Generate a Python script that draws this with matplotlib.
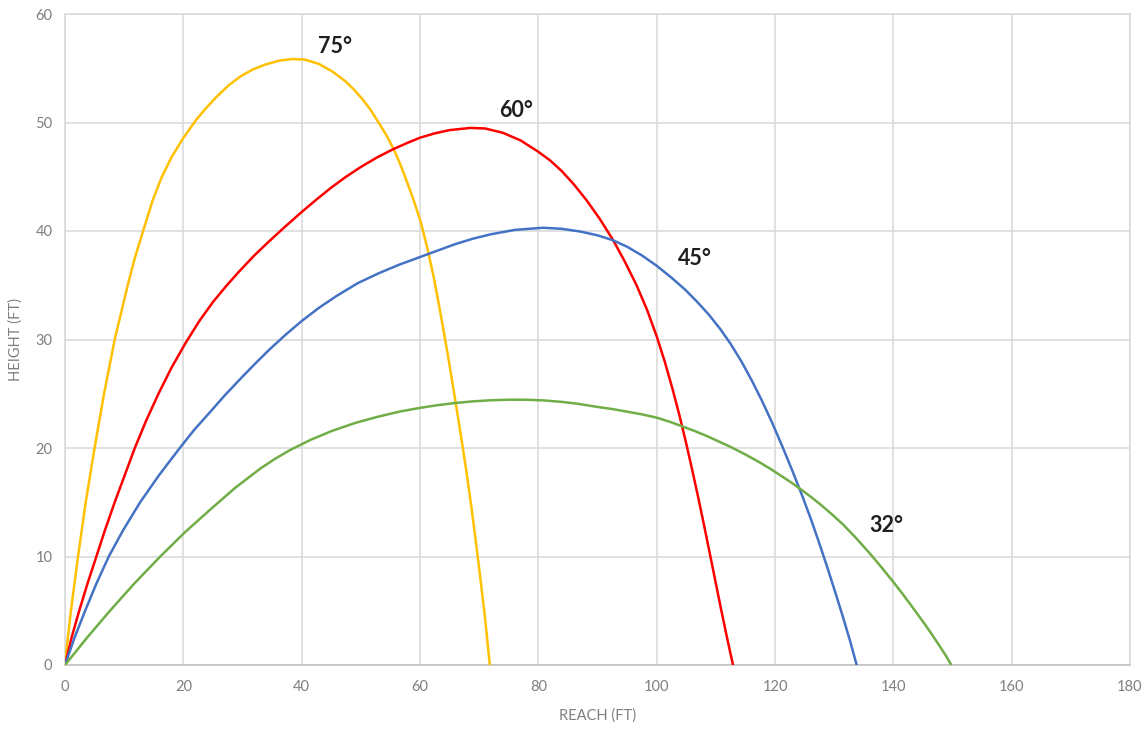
#!/usr/bin/env python3

import matplotlib
matplotlib.use('Agg')
import matplotlib.pyplot as plt

# trajectories (reach ft, height ft)
reach_75 = [0, 0.5, 1.0, 1.6, 2.2, 2.85, 3.5, 4.25, 5.0, 5.8, 6.6, 7.5, 8.4, 9.5, 10.6,
            11.8, 13.2, 14.8, 16.3, 18.0, 19.9, 22.1, 23.8, 25.5, 27.6, 29.8, 31.8,
            33.9, 36.2, 38.4, 40.5, 42.9, 45.2, 47.4, 48.9, 50.2, 51.6, 53.0, 54.3,
            55.5, 56.4, 57.2, 58.7, 60.1, 61.2, 62.3, 63.5, 64.7, 65.9, 66.9, 67.8,
            68.7, 69.5, 70.2, 71.0, 71.8]
height_75 = [0, 2.6, 5, 7.5, 10, 12.5, 15, 17.5, 20, 22.5, 25, 27.5, 30, 32.5, 35,
             37.5, 40, 42.8, 44.9, 46.8, 48.5, 50.2, 51.3, 52.3, 53.4, 54.3, 54.9,
             55.35, 55.7, 55.85, 55.8, 55.4, 54.7, 53.8, 53.0, 52.2, 51.2, 50.0, 48.85,
             47.6, 46.5, 45.4, 43.2, 40.9, 38.5, 35.8, 32.3, 28.6, 24.6, 21.2, 18.0,
             14.5, 11.1, 8.0, 4.3, 0]

reach_60 = [0, 1.1, 2.4, 3.8, 5.3, 6.8, 8.4, 10.1, 11.8, 13.7, 15.8, 18.0, 20.4, 22.7,
            25.0, 27.2, 29.4, 32.0, 34.5, 37.2, 40, 42.5, 45, 47.5, 50, 52.8, 55.5, 58,
            60, 62.5, 65, 68.5, 71, 74, 77, 80, 82, 84, 86, 88.2, 90.4, 92.6, 94.6,
            96.6, 98.4, 100, 101.4, 102.7, 103.9, 105.0, 106.0, 107.0, 108.0, 108.9,
            109.9, 110.9, 111.9, 112.9]
height_60 = [0, 2.5, 5, 7.5, 10, 12.5, 15, 17.5, 20, 22.5, 25, 27.4, 29.7, 31.7, 33.45,
             34.9, 36.25, 37.75, 39.05, 40.4, 41.75, 42.9, 44.0, 45.0, 45.9, 46.8, 47.55,
             48.15, 48.6, 49.0, 49.3, 49.5, 49.45, 49.05, 48.35, 47.3, 46.5, 45.5, 44.3,
             42.8, 41.1, 39.2, 37.2, 35.0, 32.7, 30.3, 27.9, 25.4, 22.9, 20.4, 18.0, 15.5,
             12.9, 10.5, 7.8, 5.1, 2.5, 0]

reach_45 = [0, 1.6, 3.4, 5.3, 7.4, 9.8, 12.7, 15.9, 19.4, 21.8, 24.5, 27.0, 29.6, 32,
            34.5, 37.2, 40, 43, 46, 49.5, 53, 56.5, 60, 63, 66, 69, 72, 76, 80.8, 84,
            87.1, 90, 92.6, 95, 97.5, 100, 102.5, 104.8, 106.8, 108.8, 110.7, 112.5,
            114.3, 116.1, 117.8, 119.5, 121.2, 122.9, 124.6, 126.1, 127.5, 128.9,
            130.3, 131.5, 132.7, 133.8]
height_45 = [0, 2.5, 5, 7.5, 10, 12.4, 15, 17.5, 20, 21.65, 23.3, 24.85, 26.35, 27.7,
             29.05, 30.4, 31.7, 32.95, 34.05, 35.2, 36.1, 36.9, 37.6, 38.2, 38.8, 39.3,
             39.7, 40.1, 40.3, 40.2, 39.95, 39.6, 39.15, 38.55, 37.75, 36.8, 35.7, 34.6,
             33.5, 32.3, 31.0, 29.6, 28.0, 26.2, 24.35, 22.35, 20.2, 17.95, 15.6, 13.4,
             11.2, 8.9, 6.5, 4.4, 2.2, 0]

reach_32 = [0, 3.7, 7.6, 11.7, 16.1, 20.2, 24.5, 28.7, 33, 35.5, 38, 41.5, 45, 49,
            53, 56.5, 60, 63, 66, 69, 72, 75, 78, 81, 84, 87, 89.8, 92.4, 95, 97.5,
            100, 102.2, 104.3, 106.4, 108.5, 110.5, 112.5, 115, 117.5, 119.3, 121,
            122.8, 124.6, 126.3, 128, 129.8, 131.5, 133.7, 136, 138, 140, 141.5, 143,
            144.2, 145.4, 146.6, 147.7, 148.8, 149.8]
height_32 = [0, 2.5, 5, 7.5, 10, 12.2, 14.3, 16.3, 18.1, 19.0, 19.8, 20.75, 21.55, 22.3,
             22.9, 23.35, 23.7, 23.95, 24.15, 24.3, 24.4, 24.45, 24.45, 24.38, 24.25,
             24.05, 23.8, 23.6, 23.35, 23.1, 22.8, 22.42, 22.0, 21.57, 21.1, 20.6, 20.1,
             19.4, 18.65, 18.05, 17.45, 16.8, 16.1, 15.4, 14.65, 13.8, 12.95, 11.7, 10.3,
             9.0, 7.65, 6.6, 5.5, 4.6, 3.7, 2.75, 1.85, 0.93, 0]

angle_labels = ['75°', '60°', '45°', '32°']
label_x = [45.6, 76.2, 106.5, 138.9]
label_y = [56.4, 50.5, 36.9, 12.3]

colors = ['#FFC000', '#FF0000', '#4472C4', '#70AD47']

plt.rcParams['font.family'] = ['Lato', 'DejaVu Sans']

fig = plt.figure(figsize=(11.47, 7.30), dpi=100)
ax = fig.add_axes([65 / 1147, 1 - 665 / 730, 1065 / 1147, 651 / 730])

curves = [(reach_75, height_75), (reach_60, height_60),
          (reach_45, height_45), (reach_32, height_32)]
for (xs, ys), c in zip(curves, colors):
    ax.plot(xs, ys, color=c, linewidth=1.8, solid_joinstyle='round',
            solid_capstyle='round', zorder=3)

for txt, x, y in zip(angle_labels, label_x, label_y):
    ax.text(x, y, txt, ha='center', va='baseline', fontsize=15.5,
            fontweight='bold', color='#1f1f1f', zorder=4)

ax.set_xlim(0, 180)
ax.set_ylim(0, 60)
ax.set_xticks(range(0, 181, 20))
ax.set_yticks(range(0, 61, 10))
ax.grid(True, color='#d9d9d9', linewidth=1.1, zorder=0)
ax.set_axisbelow(True)

for side in ['left', 'top', 'right']:
    ax.spines[side].set_color('#d9d9d9')
    ax.spines[side].set_linewidth(1.1)
ax.spines['bottom'].set_color('#bfbfbf')
ax.spines['bottom'].set_linewidth(1.1)

ax.tick_params(axis='both', length=0, labelsize=10.5, labelcolor='#7f7f7f')
ax.tick_params(axis='x', pad=11)
ax.tick_params(axis='y', pad=9)

ax.set_xlabel('REACH (FT)', fontsize=10.5, color='#7f7f7f', va='center')
ax.xaxis.set_label_coords(0.5, -0.078)
ax.set_ylabel('HEIGHT (FT)', fontsize=10.5, color='#7f7f7f', va='center', ha='center')
ax.yaxis.set_label_coords(-0.046, 0.5)

fig.savefig('out.png', dpi=100)
